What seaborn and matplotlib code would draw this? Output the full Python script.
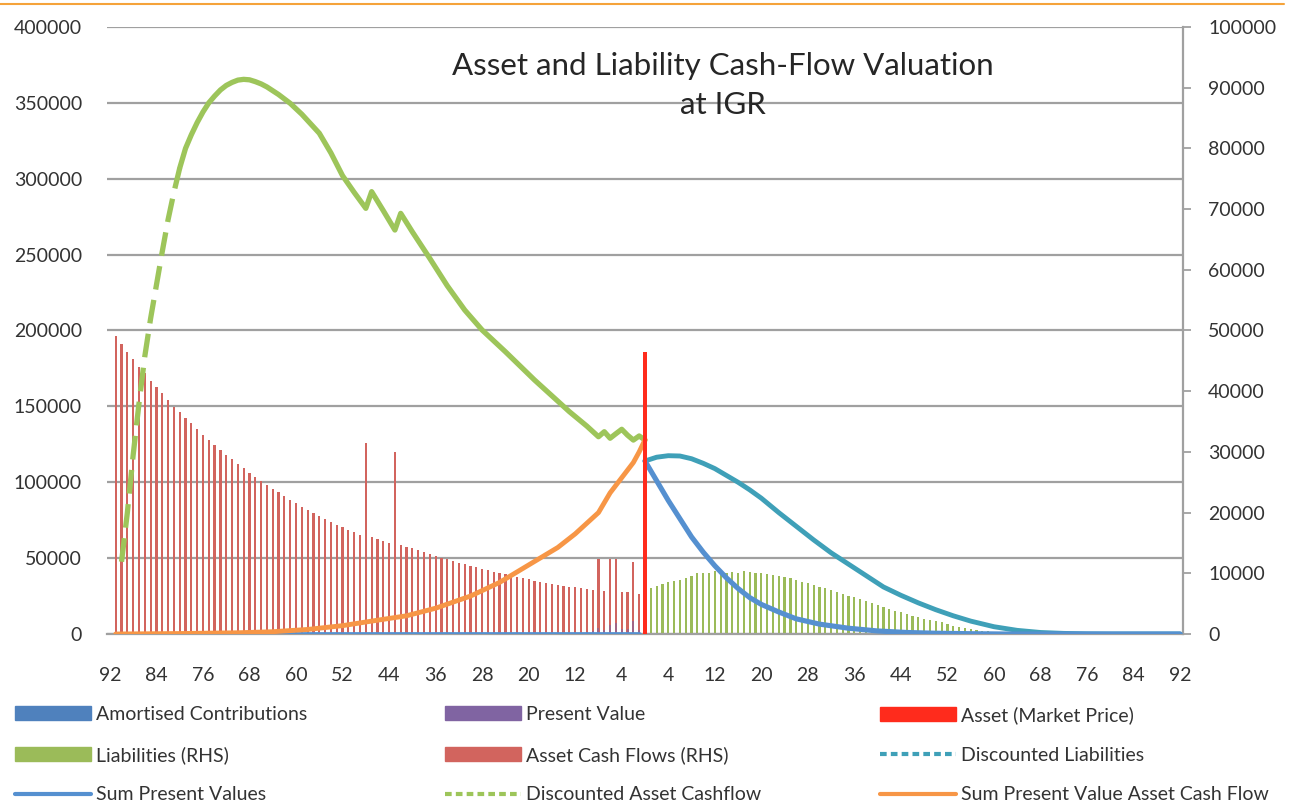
import numpy as np
import pandas as pd
import matplotlib.pyplot as plt
import seaborn as sns
from matplotlib.lines import Line2D
from matplotlib.patches import Patch
from matplotlib.ticker import MultipleLocator

# x axis: years back (negative side) and years forward (positive side), labels show abs value
tick_pos = list(range(-92, 0, 8)) + list(range(4, 93, 8))
tick_lab = [str(abs(t)) for t in tick_pos]

# Asset Cash Flows (RHS), x = -91 .. -1
acf_x = list(range(-91, 0))
acf_vals = [49100, 47780, 46530, 45250, 44050, 42950, 41750, 40650, 39650, 38550,
            37450, 36580, 35650, 34700, 33780, 32850, 31980, 31150, 30330, 29500,
            28780, 28000, 27300, 26580, 25930, 25280, 24600, 23950, 23350, 22750,
            22130, 21530, 20980, 20430, 19930, 19450, 18950, 18500, 18030, 17580,
            17130, 16750, 16330, 31430, 15930, 15600,
            15280, 14950, 30050, 14680, 14400, 14130, 13780, 13500, 13180, 12850,
            12580, 12300, 12030, 11750, 11480, 11200, 10980, 10780, 10500, 10280,
            10050, 9830, 9600, 9400, 9180, 9000, 8800, 8630, 8450, 8300,
            8130, 7980, 7800, 7700, 7530, 7350, 7250, 12300, 7150, 12300,
            12300, 6980, 6930, 11800, 6600]

# Liabilities (RHS), x = 1 .. 60
liab_x = list(range(1, 61))
liab_vals = [7500, 7900, 8250, 8600, 8800, 8900, 9200, 9550, 10000, 10000,
             10000, 10300, 10300, 10000, 10150, 10000, 10300, 10150, 10100, 10000,
             9900, 9700, 9550, 9450, 9200, 8900, 8600, 8350, 8100, 7800,
             7500, 7250, 7000, 6600, 6300, 6050, 5700, 5400, 5050, 4700,
             4400, 4100, 3850, 3600, 3300, 3000, 2750, 2500, 2300, 2100,
             1900, 1650, 1400, 1200, 1050, 900, 700, 550, 450, 320]

# Present Value bars (LHS)
pv_x = list(range(-10, 0))
pv_vals = [1500, 2000, 4000, 2500, 6000, 7000, 3000, 3500, 8500, 2500]

# Asset (Market Price) (LHS)
mp_x = [0]
mp_vals = [186000]

# Discounted Asset Cashflow (LHS): steep dashed start, then solid
dac_x = [-90, -89, -88, -87, -86, -85, -84, -83, -82, -81, -80,
         -79, -78, -77, -76, -75, -74, -73, -72, -71, -70, -69, -68, -67, -66, -65,
         -63, -61, -59, -56, -54, -52, -50, -48, -47, -45, -43, -42, -40, -37, -34,
         -31, -28, -24, -19, -13, -10, -8, -7, -6, -5, -4, -3, -2, -1, 0]
dac_vals = [47600, 80000, 118000, 152000, 183000, 208000, 230000, 252000, 273000, 291000, 307000,
            320000, 329000, 337000, 344000, 350000, 354500, 358500, 361500, 363500, 365000,
            365500, 365200, 364000, 362500, 360500,
            355500, 349700, 342500, 330000, 317000, 302000, 291000, 280500, 291500, 279000,
            266200, 277200, 265000, 247500, 229500,
            213500, 200300, 186000, 167400, 146500, 137000, 130000, 133300, 129000, 132000,
            134900, 131000, 127800, 130500, 127800]
dash_end = -80

# Sum Present Value Asset Cash Flow (LHS)
spa_x = [-91, -80, -70, -64, -58, -52, -47, -41, -36, -30, -25, -20, -15, -12, -10, -8, -6, -4, -2, -1, 0]
spa_vals = [0, 300, 800, 1500, 3000, 5500, 8500, 12000, 17000, 25000, 34000, 45500, 57000,
            66000, 73000, 80000, 93000, 103000, 113000, 120000, 128000]

# Sum Present Values (LHS)
spv_left_x = [-91, -1]
spv_left_vals = [0, 0]
spv_x = [0, 2, 4, 6, 8, 10, 12, 14, 16, 18, 20, 23, 26, 30, 35, 40, 45, 50, 56, 62, 92]
spv_vals = [114000, 101000, 88000, 76000, 64000, 54000, 45000, 37000, 30000, 24000, 19500,
            14500, 10000, 6500, 3800, 2000, 1000, 500, 200, 0, 0]

# Discounted Liabilities (LHS)
dl_x = [0, 2, 4, 6, 8, 10, 12, 14, 16, 18, 20, 23, 26, 29, 32, 35, 38, 41, 44, 47, 50,
        53, 56, 60, 64, 68, 72, 76, 80, 92]
dl_vals = [114000, 116500, 117500, 117300, 115500, 112500, 109000, 104500, 100000, 95000, 89500,
           80000, 71000, 62000, 53500, 46000, 38500, 31000, 25500, 20500, 16000,
           12000, 8500, 4800, 2400, 1000, 400, 100, 0, 0]

c_blue_bar = '#4F81BD'
c_purple = '#8064A2'
c_red = '#FF2B1C'
c_green = '#9BBB59'
c_green_line = '#9DC55A'
c_acf = '#D2645E'
c_teal = '#3FA0B8'
c_blue = '#5590D0'
c_orange = '#F79646'
c_grid = '#A0A0A0'
c_text = '#333333'

sns.set_theme(style="white")
plt.rcParams['font.family'] = ['Lato', 'DejaVu Sans']

fig = plt.figure(figsize=(13.04, 8.06), dpi=100)
rect = [107 / 1304, 1 - 634 / 806, 1076 / 1304, 607 / 806]
ax2 = fig.add_axes(rect)  # secondary (RHS) axis, drawn below
ax = fig.add_axes(rect)   # primary axis on top
ax.patch.set_visible(False)

# secondary bars
ax2.bar(acf_x, acf_vals, width=0.38, color=c_acf, linewidth=0, zorder=2)
ax2.bar(liab_x, liab_vals, width=0.38, color=c_green, linewidth=0, zorder=2)

# primary bars
ax.bar(pv_x, pv_vals, width=0.35, color=c_purple, linewidth=0, alpha=0.6, zorder=1)
ax.bar(mp_x, mp_vals, width=0.6, color=c_red, linewidth=0, zorder=8)

# lines
sns.lineplot(x=dl_x, y=dl_vals, ax=ax, color=c_teal, linewidth=3.5, zorder=3)
sns.lineplot(x=spv_left_x, y=spv_left_vals, ax=ax, color=c_blue, linewidth=3.4, zorder=4)
sns.lineplot(x=spv_x, y=spv_vals, ax=ax, color=c_blue, linewidth=3.7, zorder=4)

dac = pd.DataFrame({'x': dac_x, 'y': dac_vals})
steep = dac[dac['x'] <= dash_end]
rest = dac[dac['x'] >= dash_end]
ax.plot(steep['x'], steep['y'], color=c_green_line, linewidth=3.8,
        linestyle=(0, (4.5, 2.0)), solid_capstyle='butt', zorder=5)
sns.lineplot(data=rest, x='x', y='y', ax=ax, color=c_green_line, linewidth=3.8, zorder=5)
sns.lineplot(x=spa_x, y=spa_vals, ax=ax, color=c_orange, linewidth=3.5, zorder=6)

# primary axis styling
ax.set_xlim(-92.5, 92.5)
ax.set_ylim(0, 400000)
ax.set_yticks(np.arange(0, 400001, 50000))
ax.set_yticklabels([str(v) for v in range(0, 400001, 50000)])
ax.set_xticks(tick_pos)
ax.set_xticklabels(tick_lab)
ax.tick_params(axis='y', length=0, pad=18, labelsize=14, labelcolor=c_text)
ax.tick_params(axis='x', length=0, pad=24, labelsize=14, labelcolor=c_text)
ax.set_xlabel('')
ax.set_ylabel('')
for s in ax.spines.values():
    s.set_visible(False)

# secondary axis styling
ax2.set_xlim(-92.5, 92.5)
ax2.set_ylim(0, 100000)
ax2.yaxis.tick_right()
ax2.set_yticks(np.arange(0, 100001, 10000))
ax2.yaxis.set_minor_locator(MultipleLocator(12500))
ax2.yaxis.remove_overlapping_locs = False
ax2.set_axisbelow(True)
ax2.grid(False)
ax2.grid(which='minor', axis='y', color=c_grid, linewidth=1.6)
ax2.tick_params(axis='y', which='major', direction='out', length=6, width=1.3,
                color=c_grid, pad=12, labelsize=14, labelcolor=c_text, right=True)
ax2.tick_params(axis='y', which='minor', length=0)
ax2.tick_params(axis='x', length=0, labelbottom=False)
ax2.set_xticks([])
for k in ['left', 'top']:
    ax2.spines[k].set_visible(False)
for k in ['right', 'bottom']:
    ax2.spines[k].set_color(c_grid)
    ax2.spines[k].set_linewidth(1.6)

ax.text(0.5725, 0.958, "Asset and Liability Cash-Flow Valuation\nat IGR",
        transform=ax.transAxes, ha='center', va='top', fontsize=22.5,
        color='#262626', linespacing=1.45, zorder=10)

# legend in three columns
cols = [
    [Patch(color=c_blue_bar, label='Amortised Contributions'),
     Patch(color=c_green, label='Liabilities (RHS)'),
     Line2D([], [], color=c_blue, lw=3, label='Sum Present Values')],
    [Patch(color=c_purple, label='Present Value'),
     Patch(color=c_acf, label='Asset Cash Flows (RHS)'),
     Line2D([], [], color=c_green_line, lw=3, linestyle=(0, (1.6, 1.0)), label='Discounted Asset Cashflow')],
    [Patch(color=c_red, label='Asset (Market Price)'),
     Line2D([], [], color=c_teal, lw=3, linestyle=(0, (1.6, 1.0)), label='Discounted Liabilities'),
     Line2D([], [], color=c_orange, lw=3, label='Sum Present Value Asset Cash Flow')],
]
col_x = [15, 445, 880]
for hx, handles in zip(col_x, cols):
    fig.legend(handles=handles, loc='upper left', bbox_to_anchor=(hx / 1304, 1 - 706 / 806),
               frameon=False, fontsize=14, handlelength=3.9, handleheight=0.7,
               handletextpad=0.25, labelspacing=1.17, borderpad=0, borderaxespad=0,
               labelcolor=c_text)

# thin orange rule along the top edge
fig.add_artist(Line2D([0, 0.985], [0.995, 0.995], transform=fig.transFigure,
                      color='#F5A33A', linewidth=1.5))

fig.savefig('out.png', dpi=100)
